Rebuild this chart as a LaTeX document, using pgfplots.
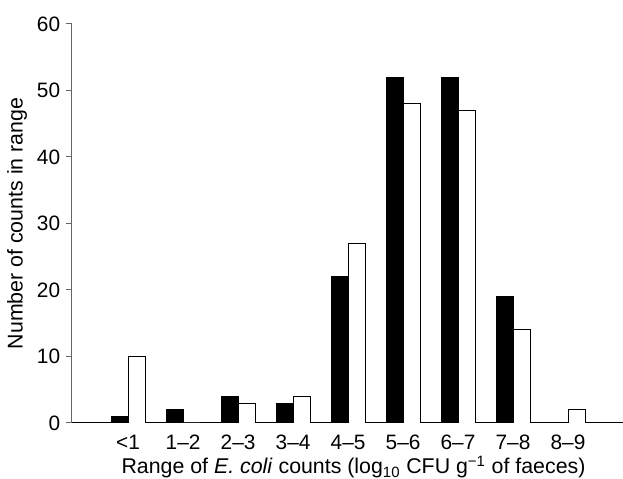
\documentclass[border=0pt]{standalone}
\usepackage{fontspec}
\setmainfont{Liberation Sans}
\usepackage{pgfplots}
\pgfplotsset{compat=1.18}

\begin{document}
\begin{tikzpicture}
\begin{axis}[
  name=ax,
  width=330.6pt, height=239.4pt,
  scale only axis,
  ybar,
  bar width=10.2pt,
  xmin=-1.02, xmax=9.0,
  ymin=0, ymax=60,
  ytick={0,10,...,60},
  xtick={0,...,8},
  xticklabels={<1,1--2,2--3,3--4,4--5,5--6,6--7,7--8,8--9},
  axis x line=bottom,
  axis y line=left,
  axis line style={-, line width=0.6pt},
  y axis line style={draw=black!60},
  x axis line style={draw=black},
  tick align=outside,
  xtick style={draw=none},
  ytick style={draw=black!60, line width=0.6pt},
  major tick length=3.6pt,
  tick label style={font=\fontsize{12.5pt}{14pt}\selectfont},
  /pgf/number format/assume math mode=true,
  label style={font=\fontsize{12.8pt}{14pt}\selectfont},
  xlabel={Range of \textit{E. coli} counts (log\textsubscript{10} CFU g\textsuperscript{−1} of faeces)},
  ylabel={Number of counts in range},
  xlabel style={yshift=3pt, xshift=3.6pt},
  ylabel style={yshift=-1pt},
]
\addplot[fill=black, draw=black, bar shift=-5.1pt] coordinates {
  (0,1) (1,2) (2,4) (3,3) (4,22) (5,52) (6,52) (7,19) (8,0)
};
\addplot[fill=white, draw=black, line width=0.5pt, bar shift=5.1pt] coordinates {
  (0,10) (1,0) (2,3) (3,4) (4,27) (5,48) (6,47) (7,14) (8,2)
};
\end{axis}
\pgfresetboundingbox
\useasboundingbox ([xshift=-43.2pt,yshift=-33.6pt]ax.south west) rectangle ([yshift=14.4pt]ax.north east);
\end{tikzpicture}
\end{document}
